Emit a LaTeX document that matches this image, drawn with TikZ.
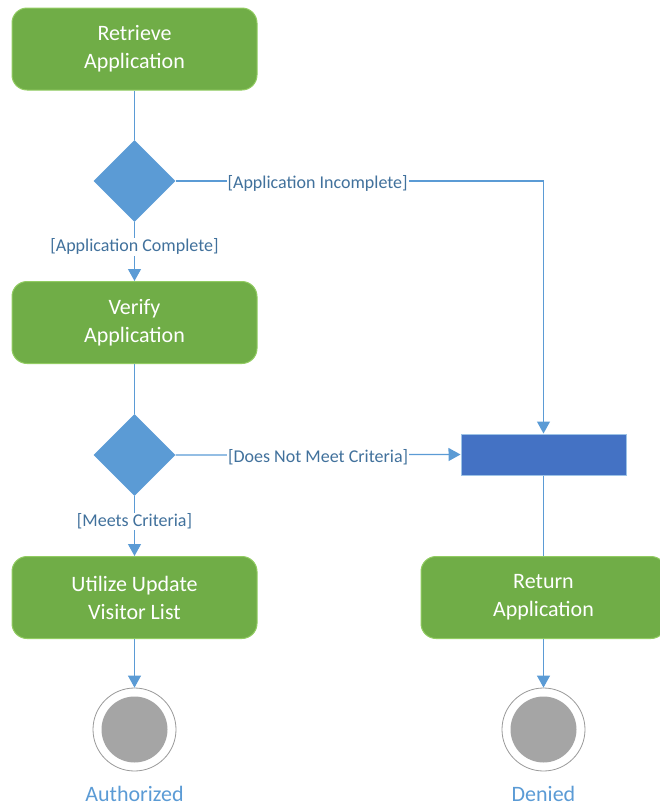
\documentclass[tikz,border=0pt]{standalone}
\usepackage{fontspec}
\setmainfont{Carlito}
\usetikzlibrary{shapes.geometric,arrows.meta}
\definecolor{actgreen}{HTML}{70AD47}
\definecolor{actborder}{HTML}{92CC62}
\definecolor{decblue}{HTML}{5B9BD5}
\definecolor{barblue}{HTML}{4472C4}
\definecolor{barborder}{HTML}{9DC3E6}
\definecolor{lblblue}{HTML}{41719C}
\definecolor{endgray}{HTML}{A5A5A5}
\tikzset{
  action/.style={draw=actborder, line width=1pt, fill=actgreen, rounded corners=15pt,
    minimum width=245pt, minimum height=82pt, text=white, align=center,
    font=\fontsize{22}{28}\selectfont, inner sep=0pt},
  decision/.style={diamond, fill=decblue, draw=none, minimum width=82pt, minimum height=82pt,
    inner sep=0pt, aspect=1},
  forkbar/.style={draw=barborder, line width=1pt, fill=barblue, minimum width=165pt,
    minimum height=41pt, inner sep=0pt},
  endouter/.style={circle, draw=gray!80, line width=0.8pt, fill=white, minimum size=83pt, inner sep=0pt},
  endinner/.style={circle, fill=endgray, minimum size=66pt, inner sep=0pt},
  conn/.style={draw=decblue, line width=1.2pt},
  arr/.style={conn, -{Triangle[width=13pt,length=12pt]}},
  lbl/.style={fill=white, text=lblblue, font=\fontsize{18}{22}\selectfont, inner sep=1pt, yshift=-2pt},
  endlbl/.style={text=decblue, font=\fontsize{22}{26}\selectfont, inner sep=0pt},
}
\begin{document}
\begin{tikzpicture}[x=1pt,y=-1pt]
\useasboundingbox (0,0) rectangle (660,806);
\node[action] (ret) at (134.5,49) {Retrieve\\Application};
\node[decision] (d1) at (134.5,181) {};
\node[action] (ver) at (134.5,322.5) {Verify\\Application};
\node[decision] (d2) at (134.5,455) {};
\node[forkbar] (bar) at (543.5,454.5) {};
\node[action] (util) at (134.5,597.5) {Utilize Update\\Visitor List};
\node[action] (retn) at (543.5,597.5) {Return\\Application};
\node[endouter] (e1) at (134.5,729.5) {};
\node[endinner] (e1i) at (134.5,729.5) {};
\node[endouter] (e2) at (543.5,729.5) {};
\node[endinner] (e2i) at (543.5,729.5) {};
\node[endlbl] (l1) at (134.5,794) {Authorized};
\node[endlbl] (l2) at (543.5,794) {Denied};
\coordinate (c1) at (bar.north |- d1.east);

\draw[conn] (ret) -- (d1);
\draw[arr] (d1) -- node[lbl, pos=0.38] {[Application Complete]} (ver);
\draw[conn] (d1.east) -- node[lbl, pos=0.386] {[Application Incomplete]} (c1);
\draw[arr] (c1) -- (bar.north);
\draw[conn] (ver) -- (d2);
\draw[arr] (d2.east) -- node[lbl, pos=0.5] {[Does Not Meet Criteria]} (bar.west);
\draw[arr] (d2) -- node[lbl, pos=0.39] {[Meets Criteria]} (util);
\draw[conn] (bar.south) -- (retn.north);
\draw[arr] (util) -- (e1);
\draw[arr] (retn) -- (e2);
\end{tikzpicture}
\end{document}
